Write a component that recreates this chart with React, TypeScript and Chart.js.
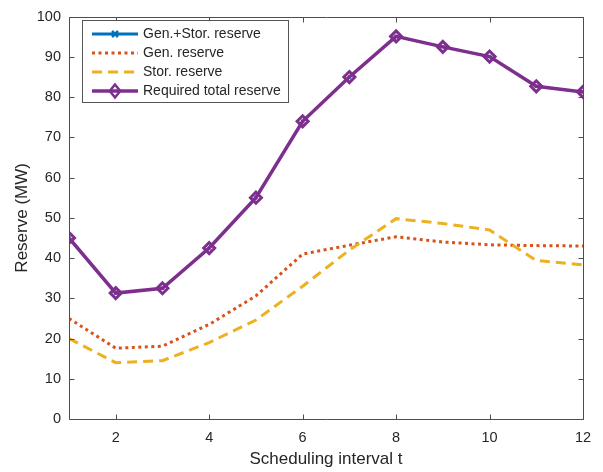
import React, { useEffect, useRef } from "react";
import { Chart, registerables } from "chart.js";

Chart.register(...registerables);

const intervals = [1, 2, 3, 4, 5, 6, 7, 8, 9, 10, 11, 12];
const genStorReserve = [45, 31.3, 32.5, 42.5, 55, 74, 85, 95.1, 92.5, 90.1, 82.7, 81.3];
const genReserve = [25, 17.6, 18.1, 23.5, 30.6, 41, 43.2, 45.3, 44, 43.3, 43.1, 43.0];
const storReserve = [20, 14, 14.5, 19, 24.6, 33, 42, 49.8, 48.6, 47, 39.4, 38.3];
const requiredReserve = [45, 31.3, 32.5, 42.5, 55, 74, 85, 95.1, 92.5, 90.1, 82.7, 81.3];
const xTicks = [2, 4, 6, 8, 10, 12];
const yTicks = [0, 10, 20, 30, 40, 50, 60, 70, 80, 90, 100];
const seriesNames = ["Gen.+Stor. reserve", "Gen. reserve", "Stor. reserve", "Required total reserve"];

const BLUE = "#0072BD";
const ORANGE = "#D95319";
const YELLOW = "#EDB120";
const PURPLE = "#7E2F8E";
const AXIS = "#262626";
const FONT = "'Liberation Sans', Arial, Helvetica, sans-serif";

const toPts = (ys: number[]) => ys.map((y, i) => ({ x: intervals[i], y }));

const boxPlugin = {
  id: "matlabBox",
  afterDraw(chart: any) {
    const { ctx, chartArea } = chart;
    const { left, right, top, bottom } = chartArea;
    const xs = chart.scales.x;
    const ys = chart.scales.y;
    ctx.save();
    ctx.strokeStyle = "#4d4d4d";
    ctx.lineWidth = 1;
    ctx.beginPath();
    const L = Math.round(left) + 0.5;
    const R = Math.round(right) + 0.5;
    const T = Math.round(top) + 0.5;
    const B = Math.round(bottom) + 0.5;
    ctx.rect(L, T, R - L, B - T);
    const tl = 5;
    xTicks.forEach((v) => {
      const px = Math.round(xs.getPixelForValue(v)) + 0.5;
      ctx.moveTo(px, B);
      ctx.lineTo(px, B - tl);
      ctx.moveTo(px, T);
      ctx.lineTo(px, T + tl);
    });
    yTicks.forEach((v) => {
      const py = Math.round(ys.getPixelForValue(v)) + 0.5;
      ctx.moveTo(L, py);
      ctx.lineTo(L + tl, py);
      ctx.moveTo(R, py);
      ctx.lineTo(R - tl, py);
    });
    ctx.stroke();

    // legend
    const lx = 82, ly = 20, lw = 206, lh = 82;
    ctx.fillStyle = "#ffffff";
    ctx.fillRect(lx + 0.5, ly + 0.5, lw, lh);
    ctx.strokeStyle = "#555555";
    ctx.strokeRect(lx + 0.5, ly + 0.5, lw, lh);
    const rows = [34, 53, 72, 91];
    const x0 = 92, x1 = 138, xm = 115;
    ctx.lineCap = "butt";
    rows.forEach((ry, i) => {
      ctx.save();
      ctx.beginPath();
      if (i === 0) {
        ctx.strokeStyle = BLUE; ctx.lineWidth = 3; ctx.setLineDash([]);
      } else if (i === 1) {
        ctx.strokeStyle = ORANGE; ctx.lineWidth = 3; ctx.setLineDash([3, 3.5]);
      } else if (i === 2) {
        ctx.strokeStyle = YELLOW; ctx.lineWidth = 3; ctx.setLineDash([10, 6]);
      } else {
        ctx.strokeStyle = PURPLE; ctx.lineWidth = 3.5; ctx.setLineDash([]);
      }
      ctx.moveTo(x0, ry);
      ctx.lineTo(x1, ry);
      ctx.stroke();
      ctx.setLineDash([]);
      if (i === 0) {
        ctx.lineWidth = 2.5;
        ctx.beginPath();
        const r = 3;
        ctx.moveTo(xm - r, ry - r); ctx.lineTo(xm + r, ry + r);
        ctx.moveTo(xm - r, ry + r); ctx.lineTo(xm + r, ry - r);
        ctx.stroke();
      } else if (i === 3) {
        ctx.lineWidth = 2.5;
        ctx.beginPath();
        const r = 6.5;
        ctx.moveTo(xm, ry - r); ctx.lineTo(xm + r * 0.8, ry);
        ctx.lineTo(xm, ry + r); ctx.lineTo(xm - r * 0.8, ry);
        ctx.closePath();
        ctx.stroke();
      }
      ctx.restore();
      ctx.fillStyle = AXIS;
      ctx.font = `14px ${FONT}`;
      ctx.textBaseline = "middle";
      ctx.textAlign = "left";
      ctx.fillText(seriesNames[i], 143, ry + 0.5);
    });
    ctx.restore();
  },
};

export default function App() {
  const ref = useRef<HTMLCanvasElement | null>(null);
  useEffect(() => {
    if (!ref.current) return;
    const chart = new Chart(ref.current, {
      type: "line",
      data: {
        datasets: [
          {
            label: seriesNames[0],
            data: toPts(genStorReserve),
            borderColor: BLUE,
            backgroundColor: BLUE,
            borderWidth: 2,
            pointStyle: "crossRot",
            pointRadius: 2,
            pointBorderWidth: 1.5,
            order: 4,
          },
          {
            label: seriesNames[1],
            data: toPts(genReserve),
            borderColor: ORANGE,
            borderWidth: 3,
            borderDash: [3, 3.5],
            pointRadius: 0,
            order: 3,
          },
          {
            label: seriesNames[2],
            data: toPts(storReserve),
            borderColor: YELLOW,
            borderWidth: 3,
            borderDash: [10, 6],
            pointRadius: 0,
            order: 2,
          },
          {
            label: seriesNames[3],
            data: toPts(requiredReserve),
            borderColor: PURPLE,
            backgroundColor: "rgba(0,0,0,0)",
            borderWidth: 3.5,
            pointStyle: "rectRot",
            pointRadius: 5.5,
            pointBorderWidth: 3,
            order: 1,
          },
        ],
      },
      options: {
        animation: false,
        responsive: false,
        layout: { padding: { top: 13, right: 20, left: 0, bottom: 0 } },
        plugins: { legend: { display: false }, tooltip: { enabled: false } },
        elements: { line: { tension: 0 } },
        scales: {
          x: {
            type: "linear",
            min: 1,
            max: 12,
            grid: { display: false, drawTicks: false },
            border: { display: false },
            afterBuildTicks: (s: any) => {
              s.ticks = xTicks.map((v) => ({ value: v }));
            },
            afterFit: (s: any) => {
              s.height = 53;
            },
            ticks: {
              padding: 10,
              color: AXIS,
              font: { family: FONT, size: 14.5 },
              maxRotation: 0,
              autoSkip: false,
            },
            title: {
              display: true,
              text: "Scheduling interval t",
              color: AXIS,
              font: { family: FONT, size: 17 },
              padding: { top: 0, bottom: 2 },
            },
          },
          y: {
            type: "linear",
            min: 0,
            max: 100,
            grid: { display: false, drawTicks: false },
            border: { display: false },
            afterBuildTicks: (s: any) => {
              s.ticks = yTicks.map((v) => ({ value: v }));
            },
            afterFit: (s: any) => {
              s.width = 69;
            },
            ticks: {
              padding: 8,
              color: AXIS,
              font: { family: FONT, size: 14.5 },
              autoSkip: false,
            },
            title: {
              display: true,
              text: "Reserve (MW)",
              color: AXIS,
              font: { family: FONT, size: 17 },
              padding: { top: 12, bottom: 0 },
            },
          },
        },
      },
      plugins: [boxPlugin],
    });
    return () => chart.destroy();
  }, []);
  return (
    <div style={{ position: "fixed", left: 0, top: 0, width: 603, height: 472, background: "#fff" }}>
      <canvas ref={ref} width={603} height={472} />
    </div>
  );
}
